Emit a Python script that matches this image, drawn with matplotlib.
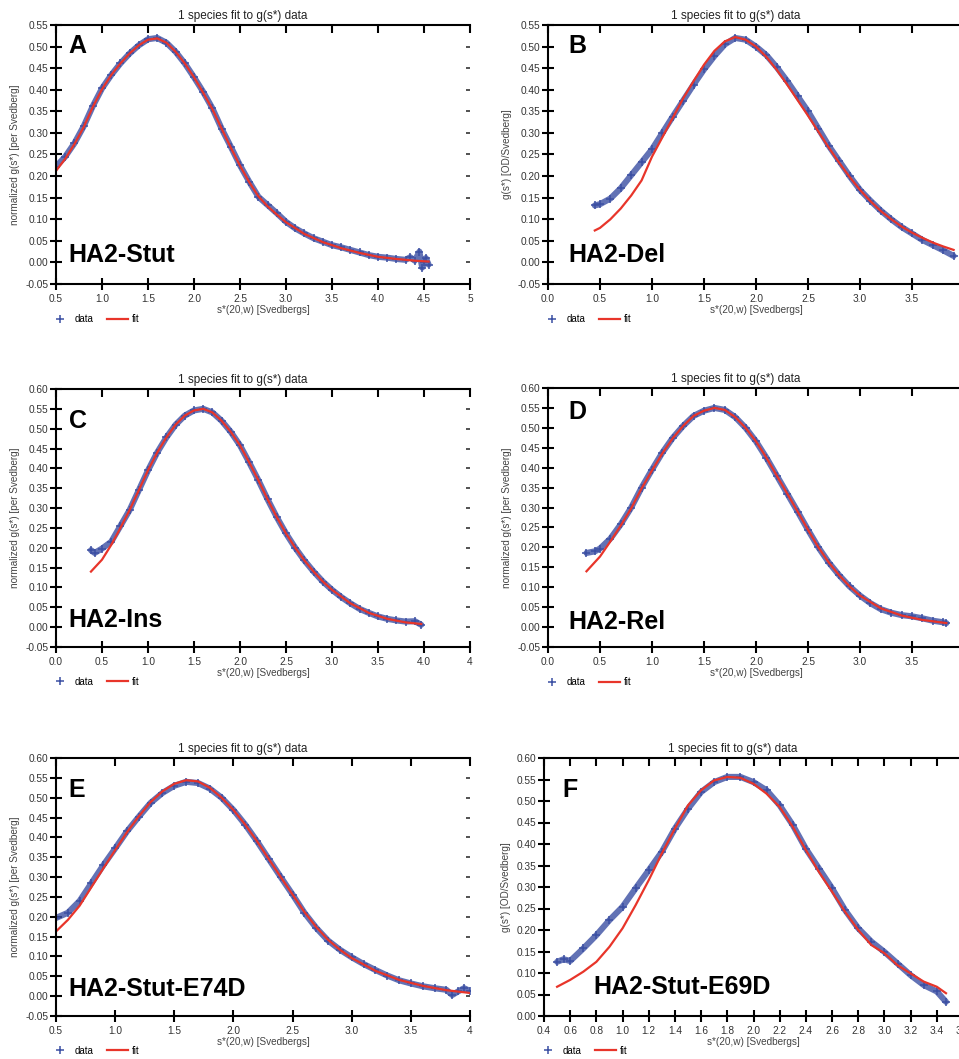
import matplotlib
matplotlib.use('Agg')
import matplotlib.pyplot as plt
from matplotlib.ticker import FixedLocator, FixedFormatter

plt.rcParams['font.family'] = ['Liberation Sans', 'DejaVu Sans']

# ---- panel A : HA2-Stut ----
a_data_s = [0.5, 0.6, 0.7, 0.8, 0.9, 1.0, 1.1, 1.2, 1.3, 1.4, 1.5, 1.6, 1.7, 1.8, 1.9, 2.0,
            2.1, 2.2, 2.3, 2.4, 2.5, 2.6, 2.7, 2.8, 2.9, 3.0, 3.1, 3.2, 3.3, 3.4, 3.5, 3.6,
            3.7, 3.8, 3.9, 4.0, 4.1, 4.2, 4.3, 4.35, 4.4, 4.45, 4.48, 4.5, 4.52, 4.55]
a_data_g = [0.222, 0.245, 0.276, 0.315, 0.362, 0.403, 0.434, 0.461, 0.484, 0.503, 0.517, 0.520,
            0.509, 0.488, 0.461, 0.429, 0.395, 0.357, 0.310, 0.268, 0.225, 0.187, 0.152, 0.133,
            0.114, 0.094, 0.079, 0.067, 0.056, 0.048, 0.040, 0.035, 0.029, 0.023, 0.017, 0.013,
            0.011, 0.008, 0.006, 0.012, 0.004, 0.025, -0.012, 0.000, 0.010, -0.005]
a_fit_s = [0.5, 0.6, 0.7, 0.8, 0.9, 1.0, 1.1, 1.2, 1.3, 1.4, 1.5, 1.6, 1.7, 1.8, 1.9, 2.0,
           2.1, 2.2, 2.3, 2.4, 2.5, 2.6, 2.7, 2.8, 2.9, 3.0, 3.2, 3.4, 3.6, 3.8, 4.0, 4.2,
           4.4, 4.55]
a_fit_g = [0.212, 0.240, 0.274, 0.313, 0.360, 0.401, 0.434, 0.461, 0.484, 0.503, 0.516, 0.519,
           0.509, 0.488, 0.461, 0.429, 0.393, 0.355, 0.310, 0.266, 0.224, 0.186, 0.153, 0.130,
           0.111, 0.093, 0.066, 0.047, 0.033, 0.022, 0.013, 0.008, 0.004, 0.002]
a_xticks = [0.5, 1.0, 1.5, 2.0, 2.5, 3.0, 3.5, 4.0, 4.5, 5.0]
a_xlabels = ['0.5', '1.0', '1.5', '2.0', '2.5', '3.0', '3.5', '4.0', '4.5', '5']

# ---- panel B : HA2-Del ----
b_data_s = [0.45, 0.5, 0.6, 0.7, 0.8, 0.9, 1.0, 1.1, 1.2, 1.3, 1.4, 1.5, 1.6, 1.7, 1.8, 1.9,
            2.0, 2.1, 2.2, 2.3, 2.4, 2.5, 2.6, 2.7, 2.8, 2.9, 3.0, 3.1, 3.2, 3.3, 3.4, 3.5,
            3.6, 3.7, 3.8, 3.9]
b_data_g = [0.132, 0.135, 0.148, 0.172, 0.202, 0.232, 0.262, 0.300, 0.338, 0.375, 0.412, 0.447,
            0.478, 0.505, 0.520, 0.516, 0.500, 0.480, 0.452, 0.420, 0.385, 0.350, 0.310, 0.270,
            0.235, 0.200, 0.168, 0.143, 0.120, 0.100, 0.082, 0.067, 0.052, 0.040, 0.028, 0.015]
b_fit_s = b_data_s
b_fit_g = [0.074, 0.080, 0.100, 0.125, 0.155, 0.190, 0.245, 0.290, 0.335, 0.380, 0.420, 0.458,
           0.490, 0.512, 0.522, 0.516, 0.500, 0.476, 0.446, 0.412, 0.376, 0.340, 0.303, 0.266,
           0.231, 0.198, 0.168, 0.142, 0.119, 0.100, 0.083, 0.069, 0.057, 0.046, 0.037, 0.029]
b_xticks = [0.0, 0.5, 1.0, 1.5, 2.0, 2.5, 3.0, 3.5, 4.0]
b_xlabels = ['0.0', '0.5', '1.0', '1.5', '2.0', '2.5', '3.0', '3.5', '4']

# ---- panel C : HA2-Ins ----
c_data_s = [0.38, 0.42, 0.5, 0.6, 0.7, 0.8, 0.9, 1.0, 1.1, 1.2, 1.3, 1.4, 1.5, 1.6, 1.7, 1.8,
            1.9, 2.0, 2.1, 2.2, 2.3, 2.4, 2.5, 2.6, 2.7, 2.8, 2.9, 3.0, 3.1, 3.2, 3.3, 3.4,
            3.5, 3.6, 3.7, 3.8, 3.9, 3.97]
c_data_g = [0.194, 0.187, 0.198, 0.215, 0.255, 0.295, 0.345, 0.395, 0.440, 0.478, 0.510, 0.533,
            0.546, 0.550, 0.541, 0.520, 0.492, 0.458, 0.415, 0.370, 0.322, 0.277, 0.236, 0.200,
            0.168, 0.140, 0.115, 0.094, 0.076, 0.060, 0.046, 0.036, 0.027, 0.021, 0.017, 0.014,
            0.015, 0.006]
c_fit_s = [0.38, 0.5, 0.6, 0.7, 0.8, 0.9, 1.0, 1.1, 1.2, 1.3, 1.4, 1.5, 1.6, 1.7, 1.8, 1.9,
           2.0, 2.1, 2.2, 2.3, 2.4, 2.5, 2.6, 2.7, 2.8, 2.9, 3.0, 3.2, 3.4, 3.6, 3.8, 3.97]
c_fit_g = [0.140, 0.170, 0.207, 0.250, 0.295, 0.345, 0.395, 0.440, 0.478, 0.510, 0.533, 0.546,
           0.550, 0.541, 0.520, 0.492, 0.458, 0.415, 0.370, 0.322, 0.277, 0.236, 0.200, 0.168,
           0.140, 0.115, 0.094, 0.060, 0.036, 0.021, 0.012, 0.008]
c_xticks = [0.0, 0.5, 1.0, 1.5, 2.0, 2.5, 3.0, 3.5, 4.0, 4.5]
c_xlabels = ['0.0', '0.5', '1.0', '1.5', '2.0', '2.5', '3.0', '3.5', '4.0', '4']

# ---- panel D : HA2-Rel ----
d_data_s = [0.37, 0.45, 0.5, 0.6, 0.7, 0.8, 0.9, 1.0, 1.1, 1.2, 1.3, 1.4, 1.5, 1.6, 1.7, 1.8,
            1.9, 2.0, 2.1, 2.2, 2.3, 2.4, 2.5, 2.6, 2.7, 2.8, 2.9, 3.0, 3.1, 3.2, 3.3, 3.4,
            3.5, 3.6, 3.7, 3.8, 3.83]
d_data_g = [0.186, 0.190, 0.197, 0.222, 0.258, 0.300, 0.350, 0.395, 0.438, 0.475, 0.505, 0.530,
            0.543, 0.550, 0.545, 0.527, 0.500, 0.466, 0.425, 0.380, 0.335, 0.290, 0.244, 0.200,
            0.162, 0.130, 0.102, 0.079, 0.060, 0.045, 0.036, 0.030, 0.027, 0.022, 0.016, 0.012,
            0.010]
d_fit_s = [0.37, 0.5, 0.6, 0.7, 0.8, 0.9, 1.0, 1.1, 1.2, 1.3, 1.4, 1.5, 1.6, 1.7, 1.8, 1.9,
           2.0, 2.1, 2.2, 2.3, 2.4, 2.5, 2.6, 2.7, 2.8, 2.9, 3.0, 3.2, 3.4, 3.6, 3.83]
d_fit_g = [0.140, 0.177, 0.215, 0.255, 0.298, 0.348, 0.393, 0.436, 0.474, 0.505, 0.530, 0.543,
           0.550, 0.545, 0.527, 0.500, 0.466, 0.425, 0.380, 0.335, 0.290, 0.244, 0.200, 0.162,
           0.130, 0.102, 0.079, 0.047, 0.029, 0.018, 0.010]
d_xticks = b_xticks
d_xlabels = b_xlabels

# ---- panel E : HA2-Stut-E74D ----
e_data_s = [0.5, 0.6, 0.7, 0.8, 0.9, 1.0, 1.1, 1.2, 1.3, 1.4, 1.5, 1.6, 1.7, 1.8, 1.9, 2.0,
            2.1, 2.2, 2.3, 2.4, 2.5, 2.6, 2.7, 2.8, 2.9, 3.0, 3.1, 3.2, 3.3, 3.4, 3.5, 3.6,
            3.7, 3.8, 3.85, 3.9, 3.95, 4.0]
e_data_g = [0.197, 0.210, 0.240, 0.285, 0.330, 0.372, 0.415, 0.452, 0.487, 0.512, 0.530, 0.540,
            0.537, 0.523, 0.500, 0.469, 0.432, 0.390, 0.345, 0.300, 0.256, 0.210, 0.172, 0.140,
            0.117, 0.098, 0.081, 0.066, 0.052, 0.040, 0.032, 0.025, 0.020, 0.016, 0.003, 0.012,
            0.020, 0.013]
e_fit_s = [0.5, 0.6, 0.7, 0.8, 0.9, 1.0, 1.1, 1.2, 1.3, 1.4, 1.5, 1.6, 1.7, 1.8, 1.9, 2.0,
           2.1, 2.2, 2.3, 2.4, 2.5, 2.6, 2.7, 2.8, 2.9, 3.0, 3.2, 3.4, 3.6, 3.8, 4.0]
e_fit_g = [0.163, 0.192, 0.228, 0.275, 0.322, 0.368, 0.413, 0.453, 0.489, 0.516, 0.535, 0.544,
           0.541, 0.525, 0.500, 0.469, 0.432, 0.390, 0.345, 0.300, 0.256, 0.212, 0.174, 0.142,
           0.117, 0.096, 0.064, 0.041, 0.026, 0.015, 0.008]
e_xticks = [0.5, 1.0, 1.5, 2.0, 2.5, 3.0, 3.5, 4.0]
e_xlabels = ['0.5', '1.0', '1.5', '2.0', '2.5', '3.0', '3.5', '4']

# ---- panel F : HA2-Stut-E69D ----
f_data_s = [0.5, 0.55, 0.6, 0.7, 0.8, 0.9, 1.0, 1.1, 1.2, 1.3, 1.4, 1.5, 1.6, 1.7, 1.8, 1.9,
            2.0, 2.1, 2.2, 2.3, 2.4, 2.5, 2.6, 2.7, 2.8, 2.9, 3.0, 3.1, 3.2, 3.3, 3.4, 3.47]
f_data_g = [0.126, 0.132, 0.128, 0.157, 0.188, 0.223, 0.254, 0.297, 0.339, 0.382, 0.436, 0.482,
            0.521, 0.544, 0.556, 0.556, 0.544, 0.525, 0.490, 0.444, 0.389, 0.343, 0.297, 0.246,
            0.204, 0.173, 0.149, 0.122, 0.095, 0.072, 0.057, 0.033]
f_fit_s = [0.5, 0.6, 0.7, 0.8, 0.9, 1.0, 1.1, 1.2, 1.3, 1.4, 1.5, 1.6, 1.7, 1.8, 1.9, 2.0,
           2.1, 2.2, 2.3, 2.4, 2.5, 2.6, 2.7, 2.8, 2.9, 3.0, 3.1, 3.2, 3.3, 3.4, 3.47]
f_fit_g = [0.068, 0.084, 0.103, 0.126, 0.161, 0.204, 0.258, 0.316, 0.378, 0.436, 0.490, 0.525,
           0.548, 0.556, 0.554, 0.540, 0.517, 0.486, 0.440, 0.386, 0.335, 0.289, 0.242, 0.200,
           0.165, 0.146, 0.118, 0.099, 0.080, 0.068, 0.053]
f_xticks = [0.4, 0.6, 0.8, 1.0, 1.2, 1.4, 1.6, 1.8, 2.0, 2.2, 2.4, 2.6, 2.8, 3.0, 3.2, 3.4, 3.6]
f_xlabels = ['0.4', '0.6', '0.8', '1.0', '1.2', '1.4', '1.6', '1.8', '2.0', '2.2', '2.4',
             '2.6', '2.8', '3.0', '3.2', '3.4', '3.6']

ylab_norm = 'normalized g(s*) [per Svedberg]'
ylab_od = 'g(s*) [OD/Svedberg]'

blue = '#3b4fa3'
red = '#e8352a'

W, H = 959, 1059
fig = plt.figure(figsize=(W / 100, H / 100), dpi=100)

# pixel box (left, right, top, bottom), letter, name, data, limits, ticks,
# y label, letter x, name baseline y, letter baseline y (axes fraction)
panels = [
    (56, 470, 25, 284, 'A', 'HA2-Stut', a_data_s, a_data_g, a_fit_s, a_fit_g,
     (0.5, 5.0), (-0.05, 0.55), a_xticks, a_xlabels, ylab_norm, 0.031, 0.085, 0.892),
    (548, 964, 25, 284, 'B', 'HA2-Del', b_data_s, b_data_g, b_fit_s, b_fit_g,
     (0.0, 4.0), (-0.05, 0.55), b_xticks, b_xlabels, ylab_od, 0.05, 0.085, 0.892),
    (56, 470, 389, 647, 'C', 'HA2-Ins', c_data_s, c_data_g, c_fit_s, c_fit_g,
     (0.0, 4.5), (-0.05, 0.60), c_xticks, c_xlabels, ylab_norm, 0.031, 0.078, 0.849),
    (548, 964, 388, 647, 'D', 'HA2-Rel', d_data_s, d_data_g, d_fit_s, d_fit_g,
     (0.0, 4.0), (-0.05, 0.60), d_xticks, d_xlabels, ylab_norm, 0.05, 0.07, 0.88),
    (56, 470, 758, 1016, 'E', 'HA2-Stut-E74D', e_data_s, e_data_g, e_fit_s, e_fit_g,
     (0.5, 4.0), (-0.05, 0.60), e_xticks, e_xlabels, ylab_norm, 0.031, 0.076, 0.849),
    (544, 963, 758, 1016, 'F', 'HA2-Stut-E69D', f_data_s, f_data_g, f_fit_s, f_fit_g,
     (0.4, 3.6), (0.0, 0.60), f_xticks, f_xlabels, ylab_od, 0.043, 0.085, 0.849),
]

for (l, r, t, b, letter, name, ds, dg, fs, fg, xl, yl, xt, xlab, ylab,
     lx, ny, ly) in panels:
    ax = fig.add_axes([l / W, 1 - b / H, (r - l) / W, (b - t) / H])
    # data band + markers, then the fit on top
    ax.plot(ds, dg, '-', color=blue, lw=4.4, alpha=0.8, solid_capstyle='round',
            solid_joinstyle='round')
    ax.plot(ds, dg, '+', color=blue, ms=6, mew=1.1, label='data')
    ax.plot(fs, fg, '-', color=red, lw=1.6, label='fit')
    ax.set_xlim(*xl)
    ax.set_ylim(*yl)

    ax.xaxis.set_major_locator(FixedLocator(xt))
    ax.xaxis.set_major_formatter(FixedFormatter(xlab))
    yt = [round(yl[0] + 0.05 * i, 2) for i in range(int(round((yl[1] - yl[0]) / 0.05)) + 1)]
    ax.yaxis.set_major_locator(FixedLocator(yt))
    ax.yaxis.set_major_formatter(FixedFormatter(['%.2f' % v for v in yt]))

    for sp in ['left', 'bottom', 'top']:
        ax.spines[sp].set_linewidth(1.5)
    ax.spines['right'].set_visible(False)
    ax.tick_params(axis='x', which='major', direction='inout', length=8, width=1.5,
                   labelsize=7.3, labelcolor='#333333', pad=3, top=False)
    ax.tick_params(axis='y', which='major', direction='inout', length=9, width=1.5,
                   labelsize=7.3, labelcolor='#333333', pad=1, right=False)

    # top ticks pointing inward
    top = ax.secondary_xaxis('top')
    top.xaxis.set_major_locator(FixedLocator(xt))
    top.tick_params(direction='in', length=6, width=1.5, labeltop=False)
    top.spines['top'].set_visible(False)
    # little dashes on the right side
    rgt = ax.secondary_yaxis('right')
    rgt.yaxis.set_major_locator(FixedLocator(yt[1:]))
    rgt.tick_params(direction='in', length=3, width=1.2, pad=-2, labelright=False,
                    color='#333333')
    rgt.spines['right'].set_visible(False)

    ax.set_xlabel('s*(20,w) [Svedbergs]', fontsize=7.2, color='#444444', labelpad=1)
    ax.set_ylabel(ylab, fontsize=7.2, color='#444444', labelpad=4)
    ax.text(0.45, 1.035, '1 species fit to g(s*) data', transform=ax.transAxes,
            ha='center', va='center', fontsize=8.5, color='#222222')
    ax.text(lx, ly, letter, transform=ax.transAxes, fontsize=18, fontweight='bold',
            ha='left', va='baseline')
    nx = 0.119 if letter == 'F' else lx
    ax.text(nx, ny, name, transform=ax.transAxes, fontsize=18, fontweight='bold',
            ha='left', va='baseline')

    # legend below the axes
    hs, ls = ax.get_legend_handles_labels()
    ax.legend(hs, ls, loc='center left', bbox_to_anchor=(-0.015, -0.135), ncol=2,
              frameon=False, fontsize=7, handlelength=2.2, handletextpad=0.4,
              columnspacing=1.3, borderpad=0, borderaxespad=0, numpoints=1)

fig.savefig('out.png', dpi=100)
